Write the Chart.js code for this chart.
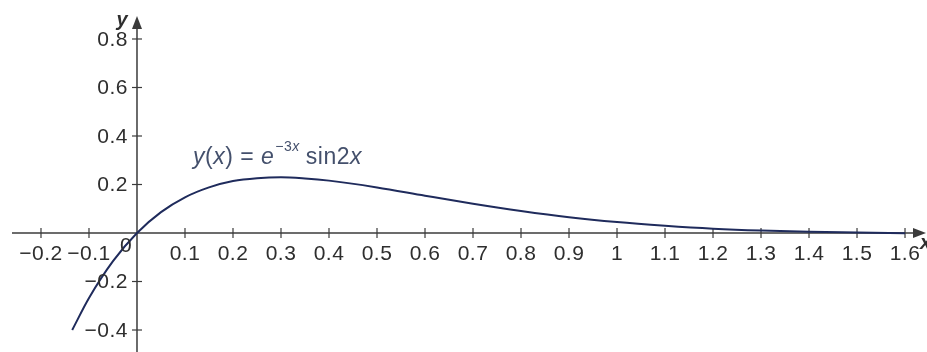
<!DOCTYPE html>
<html>
<head>
<meta charset="utf-8">
<script src="https://cdn.jsdelivr.net/npm/chart.js@4/dist/chart.umd.min.js"></script>
<style>
  html, body { margin: 0; padding: 0; background: #fff; }
  #wrap { width: 927px; height: 352px; }
</style>
</head>
<body>
<div id="wrap"><canvas id="plot" width="927" height="352"></canvas></div>
<script>
// curve y(x) = e^(-3x) sin2x
var xValues = [-0.135, -0.1, -0.05, 0, 0.05, 0.1, 0.15, 0.2, 0.25, 0.3, 0.35, 0.4, 0.5, 0.6, 0.7, 0.8, 0.9, 1.0, 1.1, 1.2, 1.3, 1.4, 1.5, 1.6];
var yValues = [-0.40, -0.268, -0.116, 0, 0.086, 0.147, 0.188, 0.214, 0.226, 0.23, 0.225, 0.216, 0.188, 0.154, 0.121, 0.091, 0.065, 0.045, 0.030, 0.018, 0.010, 0.005, 0.002, -0.001];

// tick values and labels
var xTicks = [-0.2, -0.1, 0.1, 0.2, 0.3, 0.4, 0.5, 0.6, 0.7, 0.8, 0.9, 1, 1.1, 1.2, 1.3, 1.4, 1.5, 1.6];
var xTickLabels = ["\u22120.2", "\u22120.1", "0.1", "0.2", "0.3", "0.4", "0.5", "0.6", "0.7", "0.8", "0.9", "1", "1.1", "1.2", "1.3", "1.4", "1.5", "1.6"];
var yTicks = [0.8, 0.6, 0.4, 0.2, -0.2, -0.4];
var yTickLabels = ["0.8", "0.6", "0.4", "0.2", "\u22120.2", "\u22120.4"];

var AXIS = '#3b3b3b';
var TXT = '#2e2e2e';
var FONT = '"Liberation Sans", Arial, sans-serif';

var pts = xValues.map(function(v, i) { return { x: v, y: yValues[i] }; });

//AXES + LABELS
var axesPlugin = {
    id: 'axes',
    beforeDatasetsDraw: function(chart) {
        var c = chart.ctx, sx = chart.scales.x, sy = chart.scales.y;
        var ox = sx.getPixelForValue(0), oy = sy.getPixelForValue(0);
        c.save();
        c.strokeStyle = AXIS;
        c.fillStyle = AXIS;
        c.lineWidth = 1.5;
        // x axis
        c.beginPath();
        c.moveTo(12, oy);
        c.lineTo(916, oy);
        c.stroke();
        c.beginPath();
        c.moveTo(926, oy);
        c.lineTo(913, oy - 5);
        c.lineTo(913, oy + 5);
        c.closePath();
        c.fill();
        // y axis
        c.beginPath();
        c.moveTo(ox, 352);
        c.lineTo(ox, 26);
        c.stroke();
        c.beginPath();
        c.moveTo(ox, 16);
        c.lineTo(ox - 5, 29);
        c.lineTo(ox + 5, 29);
        c.closePath();
        c.fill();
        // tick marks
        c.lineWidth = 1.2;
        xTicks.forEach(function(t) {
            var px = sx.getPixelForValue(t);
            c.beginPath();
            c.moveTo(px, oy - 5);
            c.lineTo(px, oy + 5);
            c.stroke();
        });
        yTicks.forEach(function(t) {
            var py = sy.getPixelForValue(t);
            c.beginPath();
            c.moveTo(ox - 5, py);
            c.lineTo(ox + 5, py);
            c.stroke();
        });
        c.restore();
    },
    afterDraw: function(chart) {
        var c = chart.ctx, sx = chart.scales.x, sy = chart.scales.y;
        var ox = sx.getPixelForValue(0), oy = sy.getPixelForValue(0);
        c.save();
        c.fillStyle = TXT;
        c.font = '21px ' + FONT;
        c.letterSpacing = '0.5px';
        c.textAlign = 'center';
        c.textBaseline = 'middle';
        xTicks.forEach(function(t, i) {
            c.fillText(xTickLabels[i], sx.getPixelForValue(t), oy + 21);
        });
        c.fillText('0', ox - 11, oy + 13);
        c.textAlign = 'right';
        yTicks.forEach(function(t, i) {
            c.fillText(yTickLabels[i], ox - 9, sy.getPixelForValue(t) + 1);
        });
        c.letterSpacing = '0px';
        // axis names
        c.font = 'italic bold 20px ' + FONT;
        c.textAlign = 'center';
        c.fillText('y', ox - 15, 20);
        c.textAlign = 'left';
        c.fillText('x', 920, oy + 10);
        // curve label
        c.fillStyle = '#44506c';
        c.textBaseline = 'alphabetic';
        c.letterSpacing = '0.5px';
        var x0 = 193, by = 164, big = 23, small = 14;
        c.font = 'italic ' + big + 'px ' + FONT;
        c.fillText('y', x0, by);
        x0 += c.measureText('y').width;
        c.font = big + 'px ' + FONT;
        c.fillText('(', x0, by);
        x0 += c.measureText('(').width;
        c.font = 'italic ' + big + 'px ' + FONT;
        c.fillText('x', x0, by);
        x0 += c.measureText('x').width;
        c.font = big + 'px ' + FONT;
        c.fillText(') = ', x0, by);
        x0 += c.measureText(') = ').width;
        c.font = 'italic ' + big + 'px ' + FONT;
        c.fillText('e', x0, by);
        x0 += c.measureText('e').width + 1;
        c.font = small + 'px ' + FONT;
        c.fillText('\u22123', x0, by - 13);
        x0 += c.measureText('\u22123').width;
        c.font = 'italic ' + small + 'px ' + FONT;
        c.fillText('x', x0, by - 13);
        x0 += c.measureText('x').width + 6;
        c.font = big + 'px ' + FONT;
        c.fillText('sin2', x0, by);
        x0 += c.measureText('sin2').width;
        c.font = 'italic ' + big + 'px ' + FONT;
        c.fillText('x', x0, by);
        c.restore();
    }
};

var chart = new Chart(document.getElementById('plot').getContext('2d'), {
    type: 'line',
    data: {
        datasets: [{
            data: pts,
            borderColor: '#1f2b5c',
            borderWidth: 2,
            pointRadius: 0,
            fill: false,
            cubicInterpolationMode: 'monotone'
        }]
    },
    options: {
        animation: false,
        responsive: false,
        maintainAspectRatio: false,
        layout: { padding: 0 },
        plugins: {
            legend: { display: false },
            tooltip: { enabled: false }
        },
        scales: {
            x: { type: 'linear', min: -0.2854, max: 1.6458, display: false },
            y: { type: 'linear', min: -0.4907, max: 0.9608, display: false }
        }
    },
    plugins: [axesPlugin]
});
</script>
</body>
</html>
